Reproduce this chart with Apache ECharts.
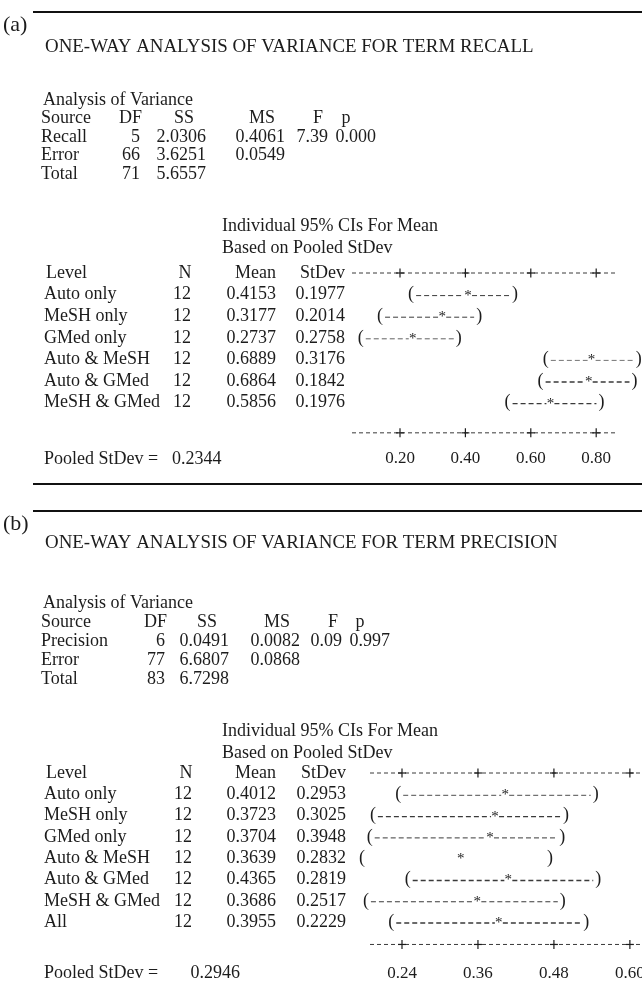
<!DOCTYPE html>
<html>
<head>
<meta charset="utf-8">
<script src="https://cdn.jsdelivr.net/npm/echarts@6/dist/echarts.min.js"></script>
<style>
  html, body { margin: 0; background: #fff; }
  #chart { width: 642px; height: 1001px; }
</style>
</head>
<body>
<div id="chart"></div>
<script>
  // ---- (a) term recall ----
  const recallSource = ['Recall', 'Error', 'Total']
  const recallDF = [5, 66, 71]
  const recallSS = [2.0306, 3.6251, 5.6557]
  const recallMS = [0.4061, 0.0549, null]
  const recallF = [7.39, null, null]
  const recallP = [0.000, null, null]

  const recallLevels = ['Auto only', 'MeSH only', 'GMed only', 'Auto & MeSH', 'Auto & GMed', 'MeSH & GMed']
  const recallN = [12, 12, 12, 12, 12, 12]
  const recallMean = [0.4153, 0.3177, 0.2737, 0.6889, 0.6864, 0.5856]
  const recallStDev = [0.1977, 0.2014, 0.2758, 0.3176, 0.1842, 0.1976]
  // interval ends and star as they sit against the printed axis
  const recallCiLow = [0.234, 0.139, 0.080, 0.646, 0.630, 0.529]
  const recallCiMid = [0.408, 0.329, 0.239, 0.786, 0.777, 0.660]
  const recallCiHigh = [0.552, 0.442, 0.380, 0.930, 0.917, 0.816]
  const recallTicks = [0.20, 0.40, 0.60, 0.80]
  const recallTickLabels = ['0.20', '0.40', '0.60', '0.80']
  const recallPooled = 0.2344

  // ---- (b) term precision ----
  const precSource = ['Precision', 'Error', 'Total']
  const precDF = [6, 77, 83]
  const precSS = [0.0491, 6.6807, 6.7298]
  const precMS = [0.0082, 0.0868, null]
  const precF = [0.09, null, null]
  const precP = [0.997, null, null]

  const precLevels = ['Auto only', 'MeSH only', 'GMed only', 'Auto & MeSH', 'Auto & GMed', 'MeSH & GMed', 'All']
  const precN = [12, 12, 12, 12, 12, 12, 12]
  const precMean = [0.4012, 0.3723, 0.3704, 0.3639, 0.4365, 0.3686, 0.3955]
  const precStDev = [0.2953, 0.3025, 0.3948, 0.2832, 0.2819, 0.2517, 0.2229]
  const precCiLow = [0.234, 0.194, 0.189, 0.177, 0.249, 0.183, 0.223]
  const precCiMid = [0.403, 0.387, 0.379, 0.333, 0.408, 0.359, 0.393]
  const precCiHigh = [0.546, 0.499, 0.493, 0.474, 0.550, 0.494, 0.531]
  const precTicks = [0.24, 0.36, 0.48, 0.60]
  const precTickLabels = ['0.24', '0.36', '0.48', '0.60']
  const precPooled = 0.2946

  const SERIF = '"Liberation Serif", "Times New Roman", serif'
  const FONT = '18px ' + SERIF
  const TICK_FONT = '17px ' + SERIF
  const INK = '#1c1c1c'
  const DASH = '#3a3a3a'
  const GRID_LEFT = 340

  const panels = [
    {
      tag: '(a)', top: 12, title: 'ONE-WAY ANALYSIS OF VARIANCE FOR TERM RECALL', titleY: 47,
      source: recallSource, df: recallDF, ss: recallSS, ms: recallMS, f: recallF, p: recallP,
      anovaY: 100, anovaStep: 18.5,
      anovaCols: { df: 140, ss: 206, ms: 285, f: 328, p: 376, dfHead: 142, ssHead: 184, msHead: 262, fHead: 318, pHead: 346 },
      ciHeadY: 226,
      levels: recallLevels, n: recallN, mean: recallMean, sd: recallStDev,
      lo: recallCiLow, mid: recallCiMid, hi: recallCiHigh,
      ticks: recallTicks, tickLabels: recallTickLabels, pooled: recallPooled, pooledX: 172, pooledAlign: 'left',
      cols: { name: 44, n: 191, mean: 276, sd: 345 },
      headerY: 273, step: 21.6, gap: 1.4, labelDy: 26,
      anchor: 0.20, anchorPx: 400, ppu: 327, axisPx: [352, 615],
      dashWidth: [1, 1, 0.8, 0.7, 1.6, 1.2]
    },
    {
      tag: '(b)', top: 511, title: 'ONE-WAY ANALYSIS OF VARIANCE FOR TERM PRECISION', titleY: 543,
      source: precSource, df: precDF, ss: precSS, ms: precMS, f: precF, p: precP,
      anovaY: 603, anovaStep: 19,
      anovaCols: { df: 165, ss: 229, ms: 300, f: 342, p: 390, dfHead: 167, ssHead: 207, msHead: 277, fHead: 333, pHead: 360 },
      ciHeadY: 731,
      levels: precLevels, n: precN, mean: precMean, sd: precStDev,
      lo: precCiLow, mid: precCiMid, hi: precCiHigh,
      ticks: precTicks, tickLabels: precTickLabels, pooled: precPooled, pooledX: 240, pooledAlign: 'right',
      cols: { name: 44, n: 192, mean: 276, sd: 346 },
      headerY: 773, step: 21.3, gap: 1.05, labelDy: 29,
      anchor: 0.24, anchorPx: 402, ppu: 633, axisPx: [370, 642],
      dashWidth: [0.9, 1.1, 1, 0, 1.5, 1.1, 1.5]
    }
  ]

  function text(s, x, y, align, sx, font) {
    return {
      type: 'text', x: x, y: y, scaleX: sx || 1,
      style: { text: s, x: 0, y: 0, align: align || 'left', verticalAlign: 'middle', font: font || FONT, fill: INK }
    }
  }

  const grids = [], xAxes = [], yAxes = [], series = [], graphics = []

  panels.forEach(function (p, gi) {
    const nRows = p.levels.length
    const toVal = function (px) { return p.anchor + (px - p.anchorPx) / p.ppu }

    // header block
    graphics.push({ type: 'line', shape: { x1: 33, y1: p.top, x2: 642, y2: p.top }, style: { stroke: '#111', lineWidth: 2 } })
    graphics.push(text(p.tag, 3, p.top + 13, 'left', 1, '22px ' + SERIF))
    graphics.push(text(p.title, 45, p.titleY, 'left', 1.05))
    graphics.push(text('Analysis of Variance', 43, p.anovaY))
    const c = p.anovaCols
    const hy = p.anovaY + p.anovaStep
    graphics.push(text('Source', 41, hy))
    graphics.push(text('DF', c.dfHead, hy, 'right'))
    graphics.push(text('SS', c.ssHead, hy, 'center'))
    graphics.push(text('MS', c.msHead, hy, 'center'))
    graphics.push(text('F', c.fHead, hy, 'center'))
    graphics.push(text('p', c.pHead, hy, 'center'))
    p.source.forEach(function (s, i) {
      const y = hy + p.anovaStep * (i + 1)
      graphics.push(text(s, 41, y))
      graphics.push(text(String(p.df[i]), c.df, y, 'right'))
      graphics.push(text(p.ss[i].toFixed(4), c.ss, y, 'right'))
      if (p.ms[i] != null) graphics.push(text(p.ms[i].toFixed(4), c.ms, y, 'right'))
      if (p.f[i] != null) graphics.push(text(p.f[i].toFixed(2), c.f, y, 'right'))
      if (p.p[i] != null) graphics.push(text(p.p[i].toFixed(3), c.p, y, 'right'))
    })
    graphics.push(text('Individual 95% CIs For Mean', 222, p.ciHeadY))
    graphics.push(text('Based on Pooled StDev', 222, p.ciHeadY + 22))

    grids.push({ left: GRID_LEFT, right: 0, top: p.headerY, height: p.step * (nRows + p.gap) })
    xAxes.push({ type: 'value', gridIndex: gi, min: toVal(GRID_LEFT), max: toVal(642), show: false })
    yAxes.push({ type: 'value', gridIndex: gi, min: 0, max: nRows + p.gap, inverse: true, show: false })

    // one row per level: table text plus ( ---- * ---- )
    series.push({
      type: 'custom',
      xAxisIndex: gi, yAxisIndex: gi,
      silent: true,
      data: p.levels.map(function (_, i) { return [i + 1, p.lo[i], p.mid[i], p.hi[i]] }),
      renderItem: function (params, api) {
        const i = params.dataIndex
        const row = api.value(0)
        const a = api.coord([api.value(1), row])
        const m = api.coord([api.value(2), row])
        const b = api.coord([api.value(3), row])
        const y = a[1]
        const kids = [
          text(p.levels[i], p.cols.name, y),
          text(String(p.n[i]), p.cols.n, y, 'right'),
          text(p.mean[i].toFixed(4), p.cols.mean, y, 'right'),
          text(p.sd[i].toFixed(4), p.cols.sd, y, 'right'),
          text('(', a[0], y, 'center'),
          text(')', b[0], y, 'center'),
          text('*', m[0], y + 1, 'center', 1, '15px ' + SERIF)
        ]
        const lw = p.dashWidth[i]
        if (lw > 0) {
          kids.push({ type: 'line', shape: { x1: a[0] + 5, y1: y + 1, x2: m[0] - 4, y2: y + 1 }, style: { stroke: DASH, lineWidth: lw, lineDash: [5, 3] } })
          kids.push({ type: 'line', shape: { x1: m[0] + 4, y1: y + 1, x2: b[0] - 5, y2: y + 1 }, style: { stroke: DASH, lineWidth: lw, lineDash: [5, 3] } })
        }
        return { type: 'group', children: kids }
      }
    })

    // character-style axes above and below the intervals
    const axFrom = toVal(p.axisPx[0])
    const axTo = toVal(p.axisPx[1])
    series.push({
      type: 'custom',
      xAxisIndex: gi, yAxisIndex: gi,
      silent: true,
      data: [[0, 0], [nRows + p.gap, 1]],
      renderItem: function (params, api) {
        const row = api.value(0)
        const isBottom = api.value(1) === 1
        const s = api.coord([axFrom, row])
        const e = api.coord([axTo, row])
        const y = s[1]
        const kids = [{ type: 'line', shape: { x1: s[0], y1: y, x2: e[0], y2: y }, style: { stroke: DASH, lineWidth: 1, lineDash: [4, 3] } }]
        p.ticks.forEach(function (t, k) {
          const q = api.coord([t, row])
          kids.push({ type: 'line', shape: { x1: q[0] - 4, y1: y, x2: q[0] + 4, y2: y }, style: { stroke: INK, lineWidth: 1.2 } })
          kids.push({ type: 'line', shape: { x1: q[0], y1: y - 4.5, x2: q[0], y2: y + 4.5 }, style: { stroke: INK, lineWidth: 1.2 } })
          if (isBottom) kids.push(text(p.tickLabels[k], q[0], y + p.labelDy, 'center', 1, TICK_FONT))
        })
        if (isBottom) {
          kids.push(text('Pooled StDev =', p.cols.name, y + p.labelDy))
          kids.push(text(p.pooled.toFixed(4), p.pooledX, y + p.labelDy, p.pooledAlign))
        } else {
          kids.push(text('Level', p.cols.name + 2, y))
          kids.push(text('N', p.cols.n - 6, y, 'center'))
          kids.push(text('Mean', p.cols.mean, y, 'right'))
          kids.push(text('StDev', p.cols.sd, y, 'right'))
        }
        return { type: 'group', children: kids }
      }
    })
  })

  // rule closing panel (a)
  graphics.push({ type: 'line', shape: { x1: 33, y1: 484, x2: 642, y2: 484 }, style: { stroke: '#111', lineWidth: 2 } })

  const chart = echarts.init(document.getElementById('chart'))
  chart.setOption({
    animation: false,
    backgroundColor: '#fff',
    grid: grids,
    xAxis: xAxes,
    yAxis: yAxes,
    graphic: graphics,
    series: series
  })
</script>
</body>
</html>
